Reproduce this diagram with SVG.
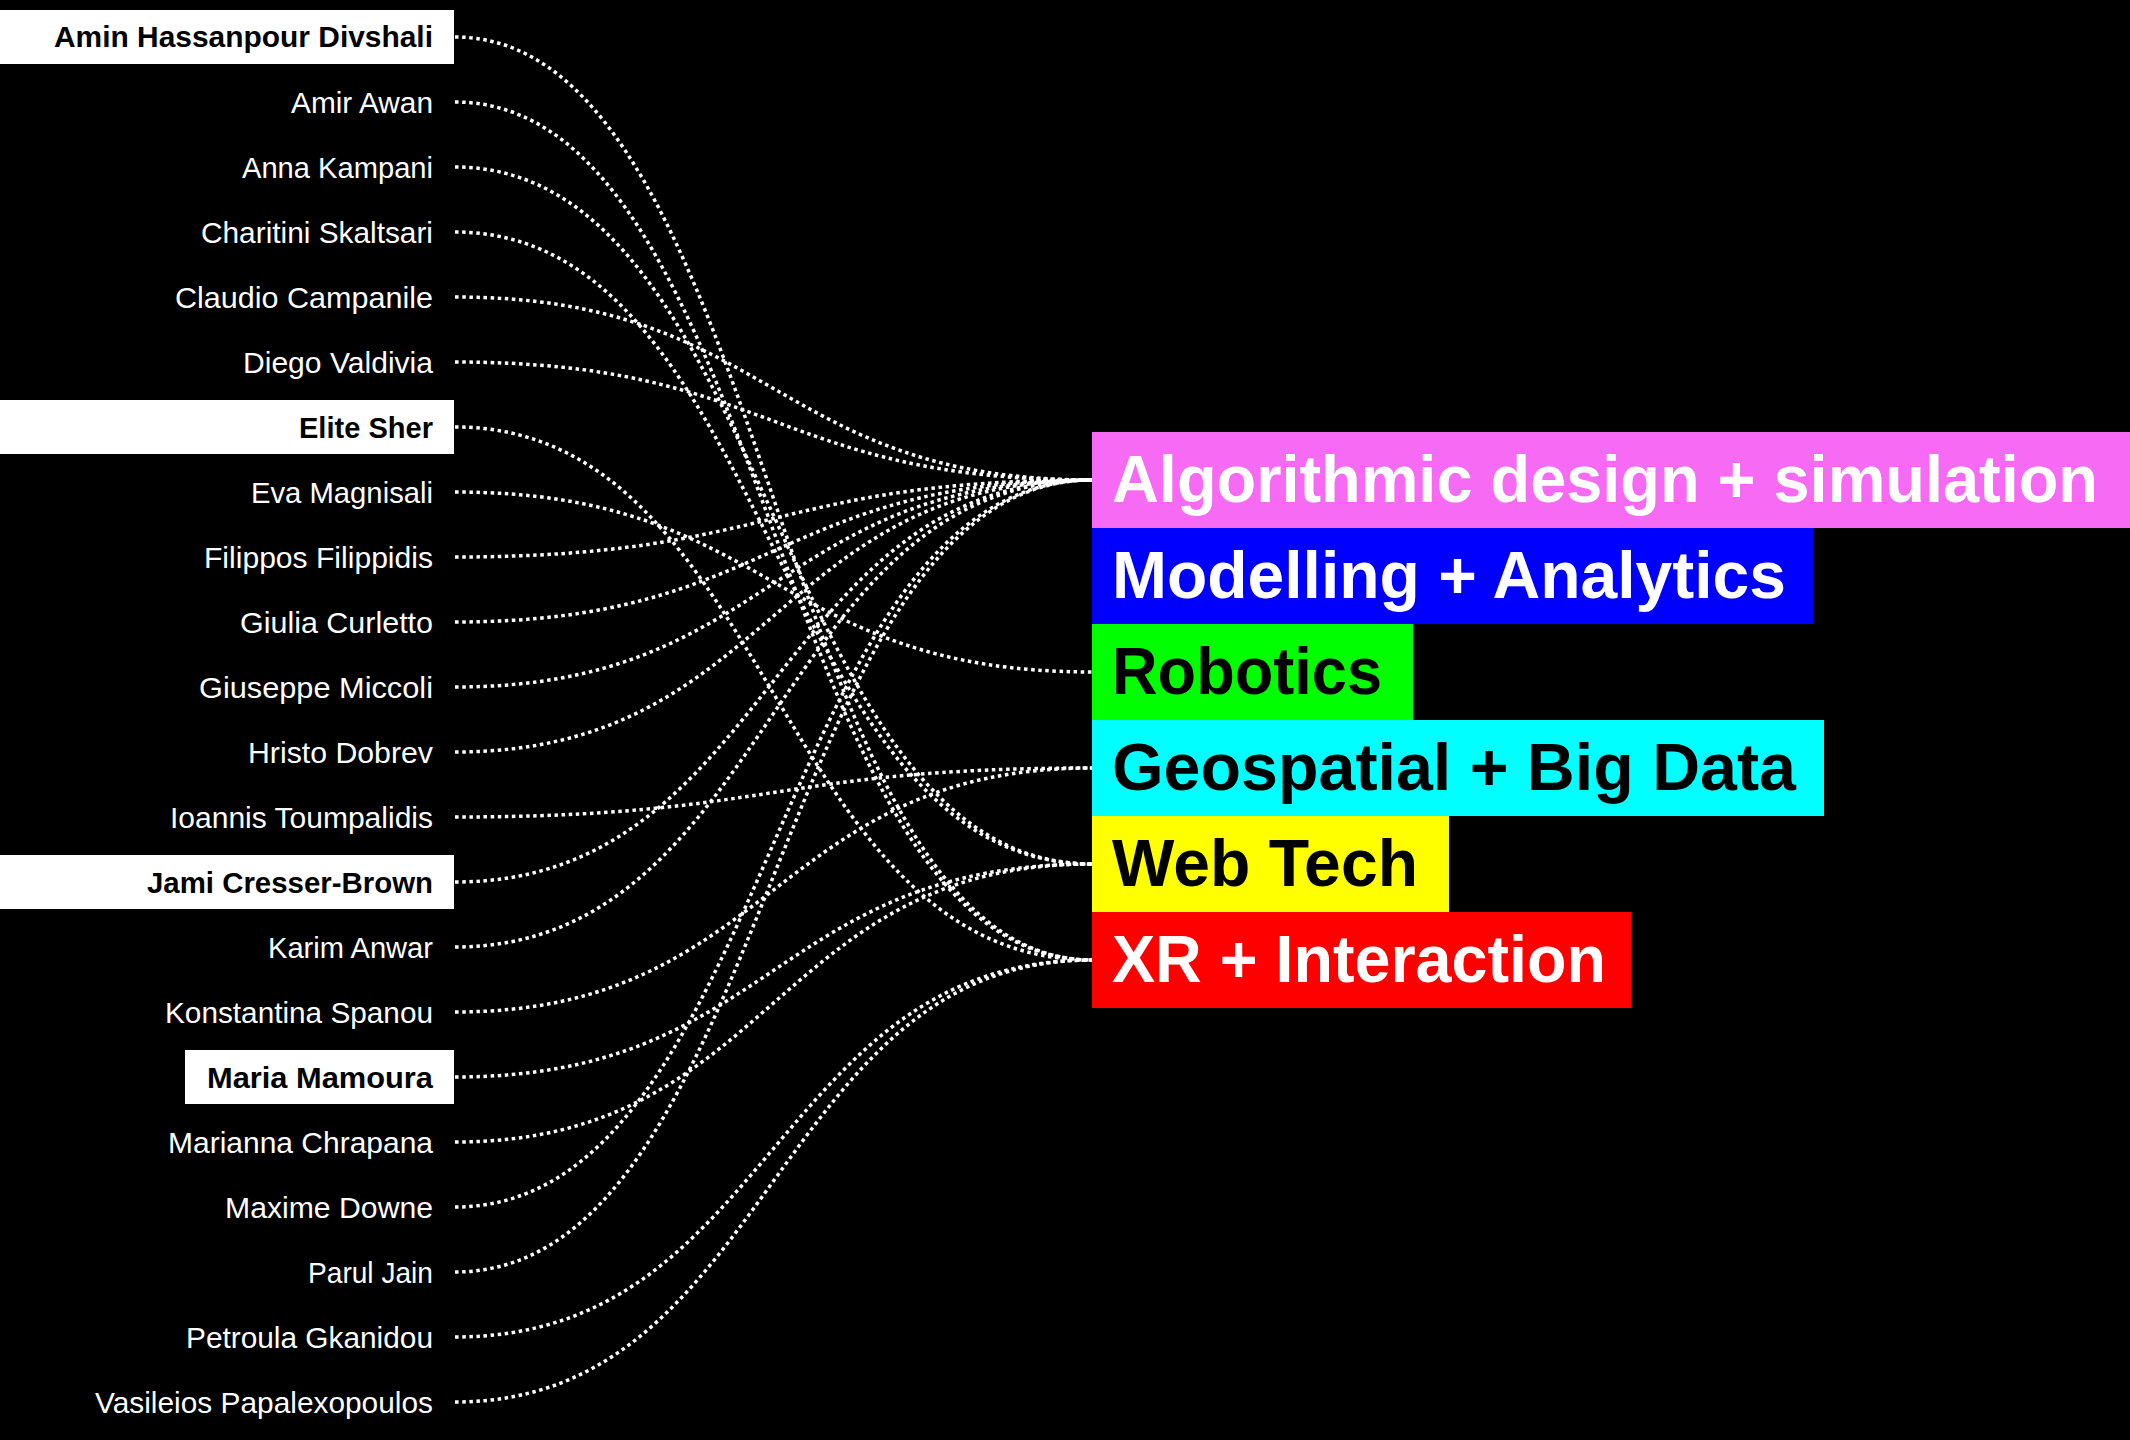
<svg xmlns="http://www.w3.org/2000/svg" width="2130" height="1440" viewBox="0 0 2130 1440">
<style>
.bg{fill:#000}
.nm{font-family:"Liberation Sans",Arial,sans-serif;font-size:29px;fill:#fff;text-anchor:end}
.nb{font-family:"Liberation Sans",Arial,sans-serif;font-size:29px;font-weight:bold;fill:#000;text-anchor:end}
.box{fill:#fff}
.tp{font-family:"Liberation Sans",Arial,sans-serif;font-size:66px;font-weight:bold}
.ln{fill:none;stroke:#fff;stroke-width:3.5;stroke-dasharray:3.5 3.6}
</style>
<rect class="bg" x="0" y="0" width="2130" height="1440"/>
<g id="connectors">
<path class="ln" d="M455,37 C773.5,37 773.5,960 1092,960"/>
<path class="ln" d="M455,102 C773.5,102 773.5,960 1092,960"/>
<path class="ln" d="M455,167 C773.5,167 773.5,864 1092,864"/>
<path class="ln" d="M455,232 C773.5,232 773.5,864 1092,864"/>
<path class="ln" d="M455,297 C773.5,297 773.5,480 1092,480"/>
<path class="ln" d="M455,362 C773.5,362 773.5,480 1092,480"/>
<path class="ln" d="M455,427 C773.5,427 773.5,960 1092,960"/>
<path class="ln" d="M455,492 C773.5,492 773.5,672 1092,672"/>
<path class="ln" d="M455,557 C773.5,557 773.5,480 1092,480"/>
<path class="ln" d="M455,622 C773.5,622 773.5,480 1092,480"/>
<path class="ln" d="M455,687 C773.5,687 773.5,480 1092,480"/>
<path class="ln" d="M455,752 C773.5,752 773.5,480 1092,480"/>
<path class="ln" d="M455,817 C773.5,817 773.5,768 1092,768"/>
<path class="ln" d="M455,882 C773.5,882 773.5,480 1092,480"/>
<path class="ln" d="M455,947 C773.5,947 773.5,480 1092,480"/>
<path class="ln" d="M455,1012 C773.5,1012 773.5,768 1092,768"/>
<path class="ln" d="M455,1077 C773.5,1077 773.5,864 1092,864"/>
<path class="ln" d="M455,1142 C773.5,1142 773.5,864 1092,864"/>
<path class="ln" d="M455,1207 C773.5,1207 773.5,480 1092,480"/>
<path class="ln" d="M455,1272 C773.5,1272 773.5,480 1092,480"/>
<path class="ln" d="M455,1337 C773.5,1337 773.5,960 1092,960"/>
<path class="ln" d="M455,1402 C773.5,1402 773.5,960 1092,960"/>
</g>
<g id="n0"><rect class="box" x="0" y="10" width="454" height="54"/><text class="nb" x="433" y="47" textLength="379" lengthAdjust="spacingAndGlyphs">Amin Hassanpour Divshali</text></g>
<g id="n1"><text class="nm" x="433" y="112.5" textLength="142" lengthAdjust="spacingAndGlyphs">Amir Awan</text></g>
<g id="n2"><text class="nm" x="433" y="177.5" textLength="191" lengthAdjust="spacingAndGlyphs">Anna Kampani</text></g>
<g id="n3"><text class="nm" x="433" y="242.5" textLength="232" lengthAdjust="spacingAndGlyphs">Charitini Skaltsari</text></g>
<g id="n4"><text class="nm" x="433" y="307.5" textLength="258" lengthAdjust="spacingAndGlyphs">Claudio Campanile</text></g>
<g id="n5"><text class="nm" x="433" y="372.5" textLength="190" lengthAdjust="spacingAndGlyphs">Diego Valdivia</text></g>
<g id="n6"><rect class="box" x="0" y="400" width="454" height="54"/><text class="nb" x="433" y="437.5" textLength="134" lengthAdjust="spacingAndGlyphs">Elite Sher</text></g>
<g id="n7"><text class="nm" x="433" y="502.5" textLength="182" lengthAdjust="spacingAndGlyphs">Eva Magnisali</text></g>
<g id="n8"><text class="nm" x="433" y="567.5" textLength="229" lengthAdjust="spacingAndGlyphs">Filippos Filippidis</text></g>
<g id="n9"><text class="nm" x="433" y="632.5" textLength="193" lengthAdjust="spacingAndGlyphs">Giulia Curletto</text></g>
<g id="n10"><text class="nm" x="433" y="697.5" textLength="234" lengthAdjust="spacingAndGlyphs">Giuseppe Miccoli</text></g>
<g id="n11"><text class="nm" x="433" y="762.5" textLength="185" lengthAdjust="spacingAndGlyphs">Hristo Dobrev</text></g>
<g id="n12"><text class="nm" x="433" y="827.5" textLength="263" lengthAdjust="spacingAndGlyphs">Ioannis Toumpalidis</text></g>
<g id="n13"><rect class="box" x="0" y="855" width="454" height="54"/><text class="nb" x="433" y="892.5" textLength="286" lengthAdjust="spacingAndGlyphs">Jami Cresser-Brown</text></g>
<g id="n14"><text class="nm" x="433" y="957.5" textLength="165" lengthAdjust="spacingAndGlyphs">Karim Anwar</text></g>
<g id="n15"><text class="nm" x="433" y="1022.5" textLength="268" lengthAdjust="spacingAndGlyphs">Konstantina Spanou</text></g>
<g id="n16"><rect class="box" x="185" y="1050" width="269" height="54"/><text class="nb" x="433" y="1087.5" textLength="226" lengthAdjust="spacingAndGlyphs">Maria Mamoura</text></g>
<g id="n17"><text class="nm" x="433" y="1152.5" textLength="265" lengthAdjust="spacingAndGlyphs">Marianna Chrapana</text></g>
<g id="n18"><text class="nm" x="433" y="1217.5" textLength="208" lengthAdjust="spacingAndGlyphs">Maxime Downe</text></g>
<g id="n19"><text class="nm" x="433" y="1282.5" textLength="125" lengthAdjust="spacingAndGlyphs">Parul Jain</text></g>
<g id="n20"><text class="nm" x="433" y="1347.5" textLength="247" lengthAdjust="spacingAndGlyphs">Petroula Gkanidou</text></g>
<g id="n21"><text class="nm" x="433" y="1412.5" textLength="338" lengthAdjust="spacingAndGlyphs">Vasileios Papalexopoulos</text></g>
<g id="t0"><rect x="1092" y="432" width="1038" height="96" fill="#f66af4"/><text class="tp" x="1112" y="502" fill="#fff" textLength="986" lengthAdjust="spacingAndGlyphs">Algorithmic design + simulation</text></g>
<g id="t1"><rect x="1092" y="528" width="722" height="96" fill="#0000ff"/><text class="tp" x="1112" y="598" fill="#fff" textLength="674" lengthAdjust="spacingAndGlyphs">Modelling + Analytics</text></g>
<g id="t2"><rect x="1092" y="624" width="321" height="96" fill="#00ff00"/><text class="tp" x="1112" y="694" fill="#000" textLength="270" lengthAdjust="spacingAndGlyphs">Robotics</text></g>
<g id="t3"><rect x="1092" y="720" width="732" height="96" fill="#00ffff"/><text class="tp" x="1112" y="790" fill="#000" textLength="684" lengthAdjust="spacingAndGlyphs">Geospatial + Big Data</text></g>
<g id="t4"><rect x="1092" y="816" width="357" height="96" fill="#ffff00"/><text class="tp" x="1112" y="886" fill="#000" textLength="306" lengthAdjust="spacingAndGlyphs">Web Tech</text></g>
<g id="t5"><rect x="1092" y="912" width="539" height="96" fill="#ff0000"/><text class="tp" x="1112" y="982" fill="#fff" textLength="494" lengthAdjust="spacingAndGlyphs">XR + Interaction</text></g>
</svg>
